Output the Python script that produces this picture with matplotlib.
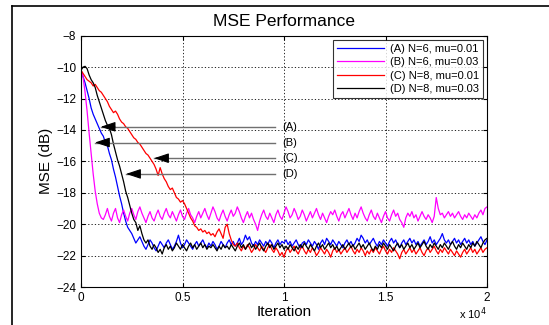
import numpy as np
import matplotlib.pyplot as plt

# MSE learning curves, one sample every 100 iterations
iters = np.arange(0, 20001, 100)

mse_a = [-10.2,-10.6,-11.0,-11.5,-12.0,-12.6,-13.0,-13.3,-13.6,-13.9,-14.2,
         -14.4,-14.8,-15.0,-15.5,-15.9,-16.5,-17.0,-17.6,-18.2,-18.7,
         -19.3,-19.8,-20.2,-20.4,-20.6,-20.9,-21.2,-21.0,-20.8,-21.1,
         -21.4,-21.6,-21.3,-21.0,-21.2,-21.5,-21.7,-21.4,-21.1,-21.3,
         -21.5,-21.2,-21.0,-21.3,-21.6,-21.4,-21.1,-20.7,-21.2,-21.5,
         -21.3,-21.0,-21.2,-21.4,-21.6,-21.3,-21.1,-21.4,-21.2,-21.0,
         -21.3,-21.5,-21.2,-21.4,-21.1,-21.3,-21.6,-21.4,-21.1,-21.3,
         -21.5,-21.2,-21.0,-21.3,-21.1,-21.4,-21.2,-20.9,-21.3,-21.1,
         -20.7,-21.0,-20.8,-21.2,-21.4,-21.1,-21.3,-21.0,-21.2,-21.4,
         -21.1,-21.3,-21.0,-21.2,-21.5,-21.2,-21.0,-21.3,-21.1,-21.2,
         -21.0,-21.3,-21.1,-21.4,-21.2,-21.0,-21.3,-21.5,-21.2,-21.1,
         -21.3,-21.0,-21.2,-21.4,-21.1,-21.3,-21.6,-21.2,-21.0,-21.3,
         -20.9,-21.1,-21.3,-21.0,-21.2,-21.4,-21.1,-21.3,-21.5,-21.2,
         -21.0,-21.3,-21.1,-21.4,-21.2,-20.9,-21.1,-20.7,-20.9,-21.2,
         -21.0,-21.3,-21.1,-20.9,-21.2,-21.4,-21.1,-21.3,-21.0,-21.2,
         -21.4,-21.1,-20.9,-21.2,-21.0,-21.3,-21.5,-21.2,-21.0,-21.3,
         -21.1,-20.9,-21.2,-21.0,-21.3,-21.1,-21.4,-21.2,-21.0,-21.3,
         -21.1,-20.8,-21.2,-21.0,-21.3,-21.1,-20.9,-20.6,-21.0,-21.2,
         -21.0,-21.3,-21.1,-20.9,-21.2,-21.0,-21.3,-21.1,-20.9,-21.2,
         -21.0,-21.3,-21.1,-21.4,-21.2,-21.0,-20.8,-21.1,-21.3,-21.0]

mse_b = [-10.2,-10.6,-11.6,-12.8,-14.2,-15.5,-16.8,-17.9,-18.7,-19.3,-19.6,
         -19.7,-19.4,-19.0,-19.5,-19.8,-19.3,-19.0,-19.6,-19.9,-19.4,
         -19.1,-19.5,-19.8,-19.3,-19.0,-19.4,-19.7,-19.2,-18.9,-19.3,
         -19.6,-19.9,-19.5,-19.2,-19.6,-19.8,-19.4,-19.1,-19.5,-19.7,
         -19.3,-19.0,-19.4,-19.6,-19.2,-19.5,-19.8,-19.4,-19.1,-19.5,
         -19.7,-19.3,-19.0,-19.4,-19.6,-19.9,-19.5,-19.2,-19.6,-19.3,
         -19.0,-19.4,-19.7,-19.3,-18.9,-19.2,-19.6,-19.8,-19.4,-19.1,
         -19.5,-19.8,-19.4,-19.1,-19.5,-19.3,-18.9,-19.2,-19.6,-19.9,
         -19.5,-19.2,-19.6,-19.3,-19.7,-20.0,-20.4,-19.8,-19.4,-19.1,
         -19.5,-19.7,-19.3,-19.6,-19.9,-19.4,-19.1,-19.5,-19.7,-19.3,
         -18.9,-19.2,-19.6,-19.4,-19.0,-19.3,-19.7,-19.5,-19.1,-19.4,
         -19.8,-19.5,-19.2,-19.6,-19.3,-19.0,-19.4,-19.7,-19.3,-19.6,
         -19.9,-19.5,-19.2,-19.4,-19.1,-19.5,-19.8,-19.4,-19.2,-19.6,
         -19.3,-19.0,-19.4,-19.7,-19.3,-19.6,-19.2,-18.9,-19.3,-19.6,
         -19.8,-19.4,-19.1,-19.5,-19.7,-19.3,-19.6,-19.9,-19.5,-19.2,
         -19.6,-19.8,-19.4,-19.1,-19.5,-19.3,-19.7,-19.9,-20.2,-19.6,
         -19.3,-19.5,-19.2,-19.6,-19.4,-19.8,-19.5,-19.2,-19.5,-19.7,
         -19.4,-19.6,-19.9,-19.5,-18.3,-19.0,-19.4,-19.3,-19.6,-19.4,
         -19.2,-19.5,-19.3,-19.6,-19.4,-19.2,-19.5,-19.7,-19.4,-19.6,
         -19.3,-19.5,-19.7,-19.4,-19.6,-19.3,-19.1,-19.4,-19.0,-18.9]

mse_c = [-10.2,-10.4,-10.6,-10.8,-10.9,-11.0,-11.2,-11.1,-11.3,-11.5,-11.6,
         -11.8,-12.0,-12.2,-12.5,-12.7,-12.9,-12.8,-13.0,-13.3,-13.5,
         -13.6,-13.8,-13.9,-14.1,-14.3,-14.5,-14.6,-14.8,-14.9,-15.1,
         -15.3,-15.5,-15.6,-15.8,-16.0,-16.2,-16.5,-16.9,-16.4,-16.8,
         -17.1,-17.3,-17.6,-17.8,-17.7,-18.0,-18.3,-18.4,-18.6,-18.5,
         -18.7,-19.0,-19.3,-19.6,-19.8,-20.1,-20.2,-20.4,-20.3,-20.5,
         -20.4,-20.6,-20.5,-20.7,-20.6,-20.8,-20.5,-20.3,-20.6,-20.9,
         -20.2,-20.0,-20.6,-21.0,-21.3,-21.4,-21.2,-21.5,-21.7,-21.4,
         -21.6,-21.3,-21.5,-21.8,-21.6,-21.3,-21.5,-21.7,-21.4,-21.6,
         -21.8,-21.5,-21.3,-21.6,-21.8,-21.5,-21.7,-22.0,-21.8,-22.1,
         -21.7,-21.5,-21.8,-21.6,-21.4,-21.7,-21.9,-21.6,-21.4,-21.7,
         -21.9,-21.6,-21.8,-21.5,-21.7,-22.0,-21.8,-21.5,-21.7,-21.9,
         -21.6,-21.8,-22.1,-21.7,-21.5,-21.8,-21.6,-21.9,-21.7,-21.5,
         -21.8,-21.6,-21.4,-21.7,-21.9,-21.6,-21.8,-21.5,-21.7,-22.0,
         -21.7,-21.9,-21.6,-21.8,-21.5,-21.7,-21.9,-21.6,-21.4,-21.7,
         -21.9,-21.6,-21.8,-21.5,-21.7,-21.9,-22.2,-21.8,-21.6,-21.9,
         -21.7,-21.5,-21.8,-21.6,-21.9,-21.7,-21.5,-21.8,-22.0,-21.7,
         -21.5,-21.8,-21.6,-21.4,-21.7,-21.9,-21.6,-21.8,-21.5,-21.7,
         -21.9,-21.6,-21.8,-22.0,-21.7,-21.9,-22.1,-21.8,-21.6,-21.9,
         -21.7,-21.5,-21.8,-21.6,-21.9,-21.7,-21.5,-21.8,-21.6,-21.5]

mse_d = [-10.2,-10.0,-9.95,-10.1,-10.5,-10.8,-11.0,-11.3,-11.8,-12.2,-12.6,
         -13.0,-13.4,-13.7,-13.9,-14.3,-14.9,-15.4,-15.9,-16.3,-16.8,
         -17.3,-17.9,-18.3,-18.8,-19.3,-19.7,-19.9,-20.4,-20.1,-20.6,
         -21.0,-21.2,-21.0,-21.4,-21.6,-21.3,-21.5,-21.8,-21.6,-21.9,
         -21.5,-21.3,-21.6,-21.4,-21.7,-21.5,-21.2,-21.4,-21.6,-21.3,
         -21.5,-21.7,-21.4,-21.2,-21.5,-21.3,-21.6,-21.4,-21.2,-21.5,
         -21.3,-21.6,-21.4,-21.5,-21.3,-21.5,-21.7,-21.4,-21.6,-21.3,
         -21.5,-21.4,-21.6,-21.3,-21.5,-21.7,-21.4,-21.2,-21.5,-21.3,
         -21.6,-21.4,-21.2,-21.5,-21.3,-21.6,-21.4,-21.2,-21.5,-21.7,
         -21.4,-21.2,-21.5,-21.3,-21.6,-21.4,-21.2,-21.5,-21.3,-21.6,
         -21.4,-21.6,-21.3,-21.5,-21.7,-21.4,-21.6,-21.3,-21.5,-21.2,
         -21.4,-21.6,-21.3,-21.5,-21.7,-21.4,-21.2,-21.5,-21.3,-21.6,
         -21.4,-21.2,-21.5,-21.3,-21.6,-21.4,-21.7,-21.5,-21.3,-21.6,
         -21.4,-21.2,-21.5,-21.3,-21.6,-21.4,-21.2,-21.5,-21.3,-21.6,
         -21.4,-21.2,-21.5,-21.7,-21.4,-21.6,-21.3,-21.5,-21.2,-21.4,
         -21.6,-21.3,-21.5,-21.7,-21.4,-21.2,-21.5,-21.3,-21.6,-21.4,
         -21.2,-21.5,-21.3,-21.6,-21.4,-21.2,-21.5,-21.3,-21.1,-21.4,
         -21.6,-21.3,-21.5,-21.2,-21.4,-21.6,-21.3,-21.5,-21.2,-21.4,
         -21.6,-21.3,-21.1,-21.4,-21.6,-21.3,-21.5,-21.2,-21.4,-21.6,
         -21.3,-21.5,-21.2,-21.4,-21.1,-21.3,-21.5,-21.2,-21.0,-20.9]

labels = ['(A) N=6, mu=0.01', '(B) N=6, mu=0.03',
          '(C) N=8, mu=0.01', '(D) N=8, mu=0.03']
colors = ['#0000ff', '#ff00ff', '#ff0000', '#000000']

# arrow annotations: tag, level (dB), iteration where the arrow points
arrow_tags = ['(A)', '(B)', '(C)', '(D)']
arrow_y = [-13.8, -14.8, -15.8, -16.8]
arrow_tip = [970, 690, 3600, 2220]
arrow_end = 9550

plt.rcParams['font.family'] = ['Liberation Sans', 'DejaVu Sans']

fig = plt.figure(figsize=(5.49, 3.25), dpi=100)
ax = fig.add_axes([81/549, 1-287/325, 406/549, (287-35.7)/325])

for y, lab, c in zip([mse_a, mse_b, mse_c, mse_d], labels, colors):
    ax.plot(iters, y, color=c, lw=0.9, label=lab)

for tag, y, tip in zip(arrow_tags, arrow_y, arrow_tip):
    ax.plot([tip, arrow_end], [y, y], color='#707070', lw=1.0)
    ax.annotate('', xy=(tip, y), xytext=(tip + 700, y),
                arrowprops=dict(arrowstyle='-|>,head_length=0.9,head_width=0.3',
                                color='black', lw=0.8, shrinkA=0, shrinkB=0))
    ax.text(arrow_end + 350, y, tag, fontsize=8, va='center', ha='left')

ax.set_xlim(0, 20000)
ax.set_ylim(-24, -8)
ax.set_xticks([0, 5000, 10000, 15000, 20000])
ax.set_xticklabels(['0', '0.5', '1', '1.5', '2'])
ax.set_yticks(np.arange(-24, -7, 2))
ax.tick_params(direction='in', labelsize=8.5, length=3, top=True, right=True)
ax.grid(True, color='black', ls=(0, (1.5, 2.5)), lw=0.6)
for s in ax.spines.values():
    s.set_linewidth(0.8)

ax.set_title('MSE Performance', fontsize=12.5, pad=7)
ax.set_xlabel('Iteration', fontsize=11, labelpad=1)
ax.set_ylabel('MSE (dB)', fontsize=11, labelpad=2)
ax.text(1.0, -0.105, r'x 10$^{4}$', transform=ax.transAxes, fontsize=8,
        ha='right', va='center')

leg = ax.legend(loc='upper right', fontsize=8, frameon=True, fancybox=False,
                handlelength=4.2, borderaxespad=0.4, labelspacing=0.3,
                borderpad=0.35, handletextpad=0.5)
leg.get_frame().set_edgecolor('black')
leg.get_frame().set_linewidth(0.8)

# outer frame of the figure (left and top edges)
fig.add_artist(plt.Line2D([12/549, 12/549], [0, 1-6/325], color='black', lw=1.2))
fig.add_artist(plt.Line2D([12/549, 1], [1-6/325, 1-6/325], color='black', lw=1.2))

fig.savefig('out.png', dpi=100)
